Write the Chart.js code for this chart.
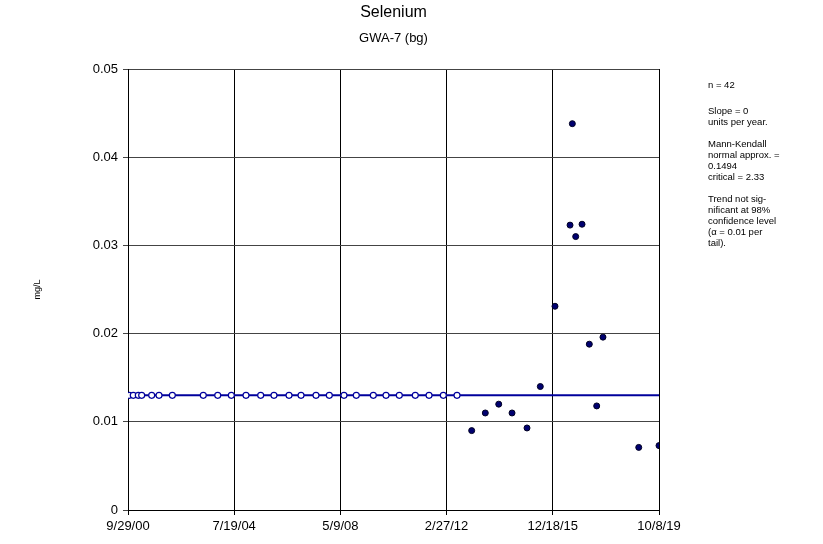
<!DOCTYPE html>
<html>
<head>
<meta charset="utf-8">
<script src="https://cdn.jsdelivr.net/npm/chart.js@4.4.0/dist/chart.umd.min.js"></script>
<style>
  html, body { margin: 0; padding: 0; background: #fff; }
</style>
</head>
<body>
<canvas id="myChart" width="823" height="544"></canvas>
<script>
// Data
var ndDates = ['2000-10-16', '2000-12-07', '2001-02-11', '2001-03-27', '2001-08-05', '2001-11-09',
    '2002-05-02', '2003-06-11', '2003-12-17', '2004-06-12', '2004-12-21', '2005-07-01',
    '2005-12-22', '2006-07-07', '2006-12-11', '2007-06-25', '2007-12-16', '2008-06-25',
    '2008-12-03', '2009-07-14', '2009-12-27', '2010-06-19', '2011-01-14', '2011-07-13',
    '2012-01-16', '2012-07-13'];
var ndValue = 0.013; // non-detects (hollow)

var detDates = ['2013-01-21', '2013-07-18', '2014-01-10', '2014-07-03', '2015-01-15', '2015-07-08',
    '2016-01-16', '2016-07-31', '2016-08-30', '2016-10-13', '2017-01-04', '2017-04-09',
    '2017-07-15', '2017-10-05', '2019-01-16', '2019-10-08'];
var detValues = [0.009, 0.011, 0.012, 0.011, 0.0093, 0.014,
    0.0231, 0.0323, 0.0438, 0.031, 0.0324, 0.0188,
    0.0118, 0.0196, 0.0071, 0.0073];

var trendValue = 0.013; // slope 0
var tickDates = ['2000-09-29', '2004-07-19', '2008-05-09', '2012-02-27', '2015-12-18', '2019-10-08'];
var yTicks = [0, 0.01, 0.02, 0.03, 0.04, 0.05];

var titleText = 'Selenium';
var subtitleText = 'GWA-7 (bg)';
var statsText = ['n = 42', 'Slope = 0', 'units per year.', 'Mann-Kendall', 'normal approx. =',
    '0.1494', 'critical = 2.33', 'Trend not sig-', 'nificant at 98%', 'confidence level',
    '(\u03b1 = 0.01 per', 'tail).'];
// vertical position of each stats line (px)
var statsY = [85, 111, 122, 144, 155, 166, 177, 199, 210, 221, 232, 243];

function toMs(s) {
    var p = s.split('-').map(Number);
    return Date.UTC(p[0], p[1] - 1, p[2]);
}
function fmtDate(v) {
    var d = new Date(v);
    return (d.getUTCMonth() + 1) + '/' + d.getUTCDate() + '/' + String(d.getUTCFullYear()).slice(2);
}

var xMin = toMs(tickDates[0]);
var xMax = toMs(tickDates[tickDates.length - 1]);

var FONT = "'Liberation Sans', Arial, sans-serif";
Chart.defaults.font.family = FONT;
Chart.defaults.color = '#000';

// titres centrés sur la zone de tracé + texte à droite
var textPlugin = {
    id: 'texts',
    afterDraw: function (chart) {
        var ctx = chart.ctx;
        var area = chart.chartArea;
        var cx = (area.left + area.right) / 2;
        ctx.save();
        ctx.fillStyle = '#000';
        ctx.textBaseline = 'middle';
        ctx.textAlign = 'center';
        ctx.font = '16px ' + FONT;
        ctx.fillText(titleText, cx, 13);
        ctx.font = '13px ' + FONT;
        ctx.fillText(subtitleText, cx, 38);

        ctx.textAlign = 'left';
        ctx.font = '9.5px ' + FONT;
        for (var i = 0; i < statsText.length; i++) {
            ctx.fillText(statsText[i], 708, statsY[i]);
        }
        ctx.restore();
    }
};

var ctx = document.getElementById('myChart').getContext('2d');
var myChart = new Chart(ctx, {
    type: 'scatter',
    data: {
        datasets: [
            {
                label: 'trend',
                data: [{ x: xMin, y: trendValue }, { x: xMax, y: trendValue }],
                showLine: true,
                borderColor: '#00009c',
                borderWidth: 2,
                pointRadius: 0,
                order: 3
            },
            {
                label: 'nd',
                data: ndDates.map(function (d) { return { x: toMs(d), y: ndValue }; }),
                backgroundColor: '#fff',
                borderColor: '#00009c',
                borderWidth: 1.2,
                pointRadius: 3,
                order: 2
            },
            {
                label: 'det',
                data: detDates.map(function (d, i) { return { x: toMs(d), y: detValues[i] }; }),
                backgroundColor: '#000070',
                borderColor: '#000022',
                borderWidth: 1,
                pointRadius: 3,
                order: 1
            }
        ]
    },
    options: {
        responsive: false,
        animation: false,
        layout: { padding: { top: 69, right: 164, bottom: 0, left: 0 } },
        scales: {
            x: {
                type: 'linear',
                min: xMin,
                max: xMax,
                afterBuildTicks: function (scale) {
                    scale.ticks = tickDates.map(function (d) { return { value: toMs(d) }; });
                },
                afterFit: function (scale) { scale.height = 34; },
                ticks: {
                    font: { size: 13 },
                    padding: 4,
                    maxRotation: 0,
                    autoSkip: false,
                    callback: function (v) { return fmtDate(v); }
                },
                grid: { color: '#000', lineWidth: 1, tickLength: 5 },
                border: { color: '#000', width: 1 }
            },
            y: {
                min: 0,
                max: 0.05,
                afterBuildTicks: function (scale) {
                    scale.ticks = yTicks.map(function (v) { return { value: v }; });
                },
                afterFit: function (scale) { scale.width = 128; },
                ticks: {
                    font: { size: 13 },
                    padding: 5,
                    callback: function (v) { return v === 0 ? '0' : v.toFixed(2); }
                },
                grid: { color: '#444', lineWidth: 1, tickLength: 5 },
                border: { color: '#000', width: 1 },
                title: {
                    display: true,
                    text: 'mg/L',
                    font: { size: 9 },
                    padding: { top: 32, bottom: 0 }
                }
            }
        },
        plugins: {
            legend: { display: false },
            tooltip: { enabled: false }
        }
    },
    plugins: [textPlugin]
});
</script>
</body>
</html>
